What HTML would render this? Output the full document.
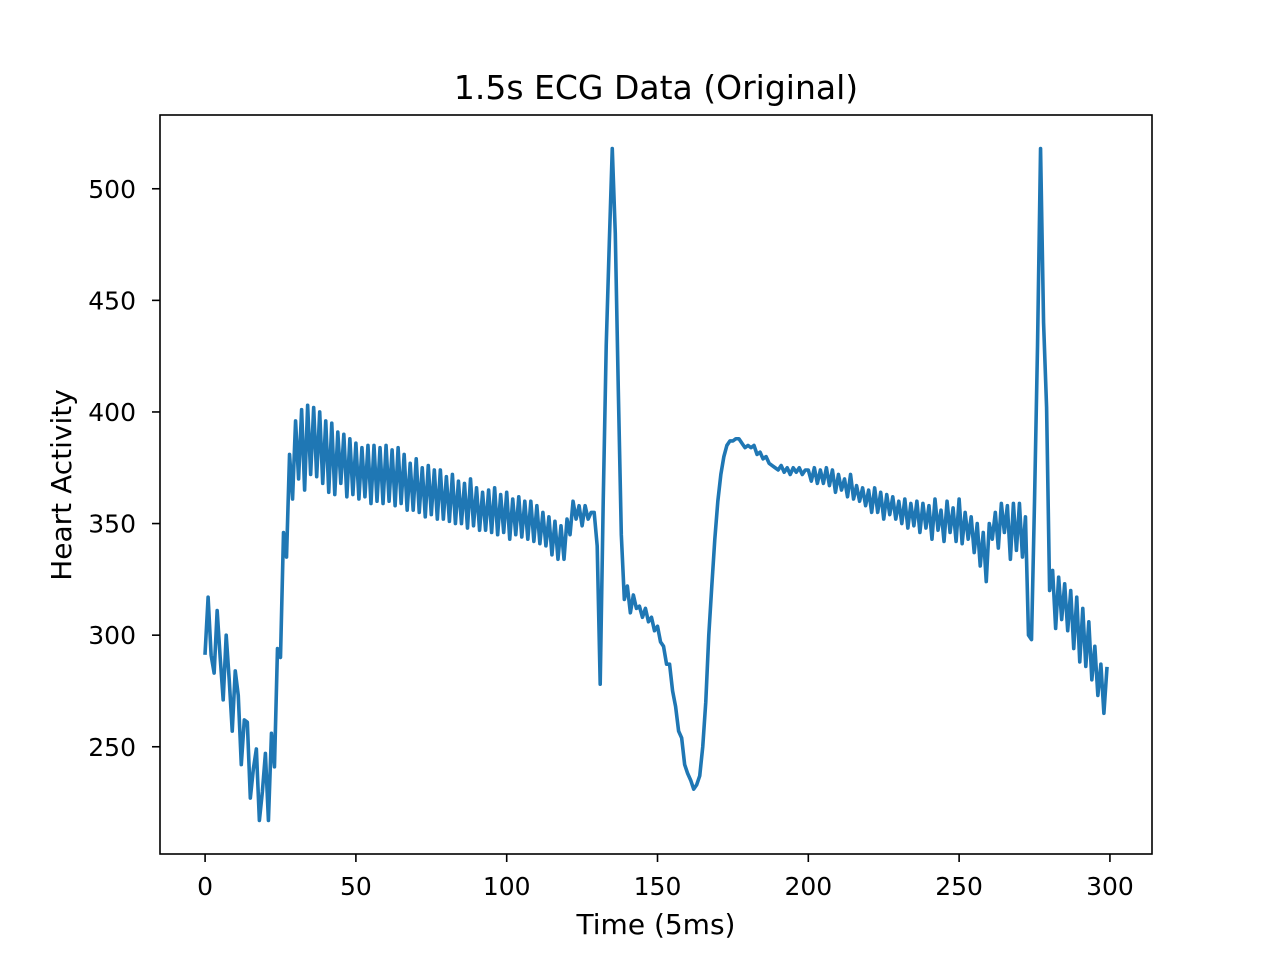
<!DOCTYPE html>
<html><head><meta charset="utf-8"><style>
html,body{margin:0;padding:0;background:#fff;}
svg text{font-family:"DejaVu Sans","Liberation Sans",sans-serif;fill:#000;}
</style></head><body>
<svg id="chart" width="1280" height="960" xmlns="http://www.w3.org/2000/svg">
<rect width="1280" height="960" fill="#fff"/>
<text x="656" y="99" font-size="33" text-anchor="middle">1.5s ECG Data (Original)</text>
<g id="xticks"></g>
<g id="yticks"></g>
<path id="line" fill="none" stroke="#1f77b4" stroke-width="3.6" stroke-linejoin="round" stroke-linecap="square"/>
<rect x="160" y="115" width="992" height="739" fill="none" stroke="#000" stroke-width="1.6"/>
<text x="656" y="934" font-size="28" text-anchor="middle">Time (5ms)</text>
<text transform="translate(71,485) rotate(-90)" font-size="28" text-anchor="middle">Heart Activity</text>
</svg>
<script>
const values = [292,317,291,283,311,290,271,300,280,257,284,273,242,262,261,227,240,249,217,230,247,217,256,241,294,290,346,335,381,361,
396,370,401,365,403,372,402,371,400,368,396,364,395,363,391,368,390,362,388,363,386,361,384,362,385,359,385,360,384,359,
385,360,383,358,384,359,381,356,377,356,379,355,375,353,376,354,374,352,374,352,371,351,372,350,369,350,368,348,370,349,
366,347,364,347,365,346,366,345,363,346,364,343,361,345,362,344,360,343,360,342,358,341,355,340,353,336,351,334,349,334,
352,345,360,352,358,349,358,352,355,355,340,278,360,430,475,518,480,410,345,316,322,310,318,312,313,308,312,306,308,302,
304,297,295,287,287,275,268,257,254,242,238,235,231,233,237,250,270,300,322,343,360,372,380,385,387,387,388,388,386,384,
385,384,385,381,382,379,380,377,376,375,374,376,373,375,372,375,373,375,372,374,374,369,375,368,374,368,375,367,374,364,
372,365,370,362,372,361,367,360,366,358,365,355,366,355,364,352,363,354,362,352,360,350,361,348,359,349,360,346,359,348,
358,343,361,347,356,342,360,346,357,342,361,341,355,343,353,337,350,331,346,324,350,343,355,339,359,346,358,334,359,338,
359,335,353,300,298,360,430,518,440,402,320,329,303,326,307,323,302,320,294,317,288,312,286,306,280,295,273,287,265,285];
const xTicks = [0,50,100,150,200,250,300];
const yTicks = [250,300,350,400,450,500];
const X0=160,X1=1152,Y0=854,Y1=115;
const xmin=-14.95,xmax=313.95,ymin=201.95,ymax=533.05;
const sx=v=>X0+(v-xmin)/(xmax-xmin)*(X1-X0);
const sy=v=>Y0-(v-ymin)/(ymax-ymin)*(Y0-Y1);
const NS="http://www.w3.org/2000/svg";
let d="";
values.forEach((v,i)=>{d+=(i?"L":"M")+sx(i).toFixed(2)+","+sy(v).toFixed(2);});
document.getElementById("line").setAttribute("d",d);
const gx=document.getElementById("xticks");
xTicks.forEach(t=>{
  const l=document.createElementNS(NS,"line");
  
  
  l.setAttribute("x1",sx(t));l.setAttribute("x2",sx(t));l.setAttribute("y1",Y0);l.setAttribute("y2",Y0+8);
  l.setAttribute("stroke","#000");l.setAttribute("stroke-width","1.6");gx.appendChild(l);
  const tx=document.createElementNS(NS,"text");
  
  
  tx.setAttribute("x",sx(t));tx.setAttribute("y",Y0+41);tx.setAttribute("font-size","25");tx.setAttribute("text-anchor","middle");
  tx.textContent=t;gx.appendChild(tx);
});
const gy=document.getElementById("yticks");
yTicks.forEach(t=>{
  const l=document.createElementNS(NS,"line");
  
  
  l.setAttribute("x1",X0-8);l.setAttribute("x2",X0);l.setAttribute("y1",sy(t));l.setAttribute("y2",sy(t));
  l.setAttribute("stroke","#000");l.setAttribute("stroke-width","1.6");gy.appendChild(l);
  const tx=document.createElementNS(NS,"text");
  
  
  tx.setAttribute("x",X0-24);tx.setAttribute("y",sy(t)+9);tx.setAttribute("font-size","25");tx.setAttribute("text-anchor","end");
  tx.textContent=t;gy.appendChild(tx);
});
</script>
</body></html>
